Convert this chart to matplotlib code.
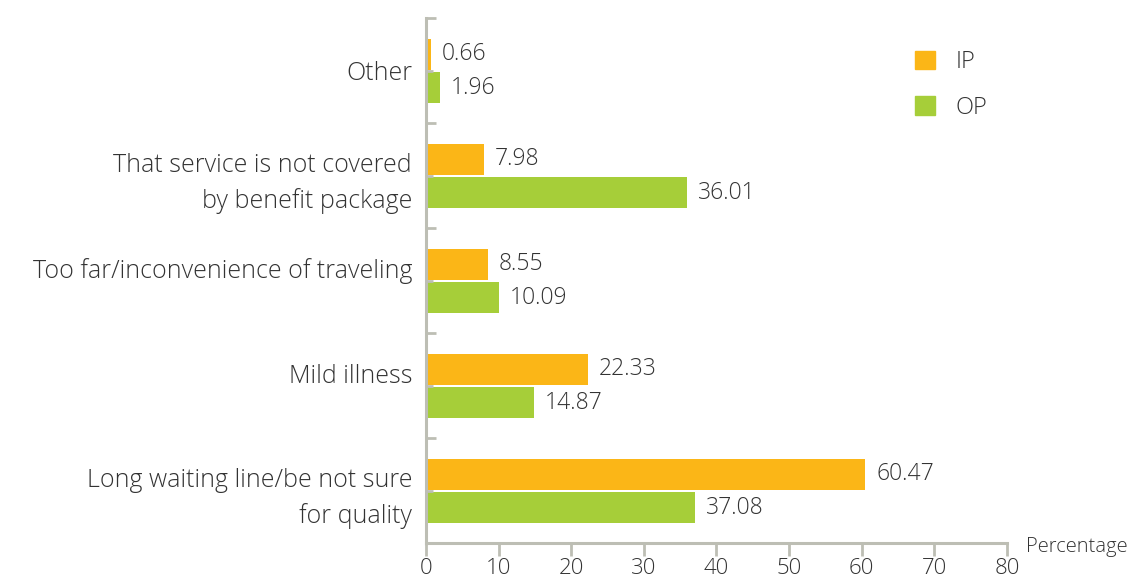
import matplotlib
matplotlib.use("Agg")
import matplotlib.pyplot as plt
from matplotlib.patches import Patch
import numpy as np

plt.rcParams['font.family'] = ['Open Sans', 'DejaVu Sans']
plt.rcParams['font.weight'] = 'light'

categories = ["Long waiting line/be not sure\nfor quality",
              "Mild illness\n ",
              "Too far/inconvenience of traveling\n ",
              "That service is not covered\nby benefit package",
              "Other"]
ip_values = [60.47, 22.33, 8.55, 7.98, 0.66]
op_values = [37.08, 14.87, 10.09, 36.01, 1.96]
x_ticks = [0, 10, 20, 30, 40, 50, 60, 70, 80]

IP_COLOR = "#FBB617"
OP_COLOR = "#A6CE39"
AXIS_COLOR = "#BDBEB4"
TEXT_COLOR = "#333333"

fig = plt.figure(figsize=(11.29, 5.8), dpi=100)
ax = fig.add_axes([0.3773, 0.0638, 0.5146, 0.905])

y = np.arange(len(categories))
h = 0.295
ax.barh(y + 0.155, ip_values, height=h, color=IP_COLOR, label="IP")
ax.barh(y - 0.165, op_values, height=h, color=OP_COLOR, label="OP")

for yi, v in zip(y, ip_values):
    ax.text(v + 1.5, yi + 0.155, f"{v:.2f}", va="center", ha="left",
            fontsize=16.5, color=TEXT_COLOR)
for yi, v in zip(y, op_values):
    ax.text(v + 1.5, yi - 0.165, f"{v:.2f}", va="center", ha="left",
            fontsize=16.5, color=TEXT_COLOR)

ax.set_xlim(0, 80)
ax.set_ylim(-0.5, len(categories) - 0.5)
ax.set_xticks(x_ticks)
ax.set_xticklabels([str(t) for t in x_ticks], fontsize=16, color=TEXT_COLOR)
ax.tick_params(axis="x", direction="out", length=9, width=2, color=AXIS_COLOR, pad=2)

ax.set_yticks(np.arange(-0.5, len(categories), 1.0))
ax.set_yticklabels([])
ax.tick_params(axis="y", which="major", direction="in", length=7.5, width=2, color=AXIS_COLOR)
ax.set_yticks(y, minor=True)
ax.set_yticklabels(categories, minor=True, fontsize=18, color=TEXT_COLOR, linespacing=1.5)
ax.tick_params(axis="y", which="minor", direction="in", length=5, width=2, color=AXIS_COLOR, pad=10)

for s in ["top", "right"]:
    ax.spines[s].set_visible(False)
for s in ["left", "bottom"]:
    ax.spines[s].set_color(AXIS_COLOR)
    ax.spines[s].set_linewidth(2.2)

fig.text(1026 / 1129, 1 - 547 / 580, "Percentage", fontsize=14.5, color=TEXT_COLOR,
         ha="left", va="center")

handles = [Patch(color=IP_COLOR), Patch(color=OP_COLOR)]
fig.legend(handles, ["IP", "OP"], loc="upper left",
           bbox_to_anchor=(894 / 1129, 1 - 29 / 580), frameon=False,
           handlelength=0.85, handleheight=0.85, labelspacing=0.9,
           handletextpad=0.85, fontsize=17, labelcolor=TEXT_COLOR)

fig.savefig("out.png", dpi=100)
